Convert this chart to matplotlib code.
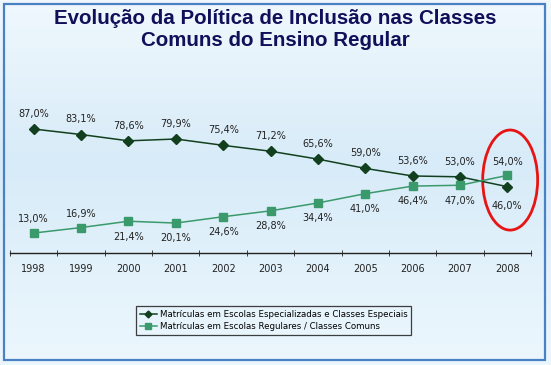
import matplotlib
matplotlib.use("Agg")
import matplotlib.pyplot as plt
import numpy as np
from matplotlib.patches import Ellipse, Rectangle
from matplotlib.colors import LinearSegmentedColormap

years = ["1998", "1999", "2000", "2001", "2002", "2003", "2004", "2005", "2006", "2007", "2008"]
especiais = [87.0, 83.1, 78.6, 79.9, 75.4, 71.2, 65.6, 59.0, 53.6, 53.0, 46.0]
comuns = [13.0, 16.9, 21.4, 20.1, 24.6, 28.8, 34.4, 41.0, 46.4, 47.0, 54.0]
# label above (+1) or below (-1) the point
pos_especiais = [1, 1, 1, 1, 1, 1, 1, 1, 1, 1, -1]
pos_comuns = [1, 1, -1, -1, -1, -1, -1, -1, -1, -1, 1]

W, H = 551, 365
DARK = "#12401f"
GREEN = "#3a9a6c"
NARROW = ["Liberation Sans Narrow", "DejaVu Sans"]


def px(x0, y0, x1, y1):
    # pixel box (top-left origin) -> figure fraction rect
    return [x0 / W, 1 - y1 / H, (x1 - x0) / W, (y1 - y0) / H]


fig = plt.figure(figsize=(W / 100, H / 100), dpi=100)

# background gradient
bg = fig.add_axes([0, 0, 1, 1], zorder=-5)
cmap = LinearSegmentedColormap.from_list(
    "bg", [(0, "#f0f8fd"), (0.45, "#d7ebf8"), (0.75, "#e3f2fb"), (1, "#ecf7fd")])
bg.imshow(np.linspace(0, 1, 256).reshape(-1, 1), aspect="auto", cmap=cmap,
          extent=[0, 1, 1, 0])
bg.axis("off")
fig.patches.append(Rectangle((4 / W, 5 / H), 541 / W, 356 / H, transform=fig.transFigure,
                             fill=False, edgecolor="#4a80c4", linewidth=1.6))

fig.text(0.5, 1 - 18 / H, "Evolução da Política de Inclusão nas Classes", ha="center",
         va="center", fontsize=14.8, fontweight="bold", color="#10105a", family="Liberation Sans")
fig.text(0.5, 1 - 41 / H, "Comuns do Ensino Regular", ha="center",
         va="center", fontsize=14.8, fontweight="bold", color="#10105a", family="Liberation Sans")

ax = fig.add_axes(px(10, 96.7, 531, 253))
ax.patch.set_alpha(0)
x = np.arange(len(years))
ax.plot(x, especiais, color=DARK, lw=1.1, marker="D", ms=5, mfc=DARK, mec=DARK,
        label="Matrículas em Escolas Especializadas e Classes Especiais")
ax.plot(x, comuns, color=GREEN, lw=1.1, marker="s", ms=6, mfc=GREEN, mec=GREEN,
        label="Matrículas em Escolas Regulares / Classes Comuns")

for xi, v, p in zip(x, especiais, pos_especiais):
    off = 11 if p > 0 else -14
    ax.annotate(f"{v:.1f}%".replace(".", ","), (xi, v), xytext=(0, off), textcoords="offset points",
                ha="center", va="center", fontsize=7, family=NARROW, color="#222222")
for xi, v, p in zip(x, comuns, pos_comuns):
    off = 10 if p > 0 else -11
    ax.annotate(f"{v:.1f}%".replace(".", ","), (xi, v), xytext=(0, off), textcoords="offset points",
                ha="center", va="center", fontsize=7, family=NARROW, color="#222222")

ax.set_xlim(-0.5, len(years) - 0.5)
ax.set_ylim(-1.2, 110)
for s in ["top", "right", "left"]:
    ax.spines[s].set_visible(False)
ax.spines["bottom"].set_color("#222222")
ax.spines["bottom"].set_linewidth(1.0)
ax.set_yticks([])
ax.set_xticks(x)
ax.set_xticklabels(years, fontsize=7, family=NARROW, color="#222222")
ax.tick_params(axis="x", which="major", length=0, pad=8)
ax.set_xticks(np.arange(-0.5, len(years)), minor=True)
ax.tick_params(axis="x", which="minor", length=5, direction="inout", color="#222222")

ax.add_patch(Ellipse((10.06, 50.7), 1.16, 71.2, fill=False, edgecolor="#e81414",
                     linewidth=2, clip_on=False))

leg = fig.legend(loc="center", bbox_to_anchor=(273.5 / W, 1 - 320.5 / H),
                 prop={"family": NARROW, "size": 6.2}, fancybox=False, handlelength=2.0,
                 handletextpad=0.3, borderpad=0.45, labelspacing=0.35, markerscale=0.7)
leg.get_frame().set_facecolor("none")
leg.get_frame().set_edgecolor("#111111")
leg.get_frame().set_linewidth(0.9)

fig.savefig("out.png", dpi=100)
